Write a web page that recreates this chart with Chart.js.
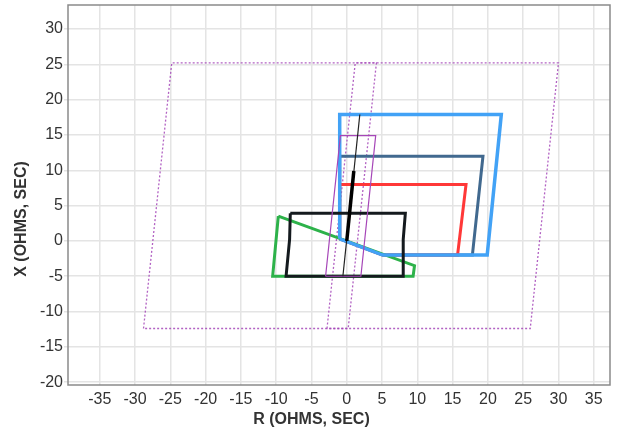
<!DOCTYPE html>
<html>
<head>
<meta charset="utf-8">
<script src="https://cdn.jsdelivr.net/npm/chart.js@4"></script>
<style>
  html, body { margin: 0; padding: 0; background: #ffffff; }
  #wrap { width: 617px; height: 434px; }
</style>
</head>
<body>
<div id="wrap"><canvas id="c" width="617" height="434"></canvas></div>
<script>
// Tick labels
const rTicks = [-35, -30, -25, -20, -15, -10, -5, 0, 5, 10, 15, 20, 25, 30, 35];
const xTicks = [-20, -15, -10, -5, 0, 5, 10, 15, 20, 25, 30];
const rTitle = 'R (OHMS, SEC)';
const xTitle = 'X (OHMS, SEC)';

// Shapes (R, X pairs)
const outerDottedR = [-28.8, -24.8, 30.0, 26.0, -28.8];
const outerDottedX = [-12.4, 25.2, 25.2, -12.4, -12.4];

const narrowDottedR = [-2.8, 1.2, 4.2, 0.2, -2.8];
const narrowDottedX = [-12.4, 25.2, 25.2, -12.4, -12.4];

const steelR = [-1.0, -1.0, 19.3, 17.8, 5.1, -1.0];
const steelX = [0.3, 12.0, 12.0, -2.0, -2.0, 0.3];

const redR = [-1.0, -1.0, 16.9, 15.7, 5.1, -1.0];
const redX = [0.3, 8.0, 8.0, -2.0, -2.0, 0.3];

const greenR = [-9.7, 9.6, 9.4, -10.5, -9.7];
const greenX = [3.5, -3.5, -5.0, -5.0, 3.5];

const blueR = [-1.0, -1.0, 21.9, 19.9, 5.1, -1.0];
const blueX = [0.3, 17.9, 17.9, -2.0, -2.0, 0.3];

const blackBoxR = [-8.0, 8.3, 8.0, 8.0, -8.6, -8.1, -8.0];
const blackBoxX = [3.9, 3.9, 0.2, -5.0, -5.0, 0.2, 3.9];

const purpleR = [-3.0, -0.9, 4.1, 2.0, -3.0];
const purpleX = [-5.0, 14.9, 14.9, -5.0, -5.0];

const thinLineR = [-0.55, 1.85];
const thinLineX = [-5.0, 17.9];

const thickLineR = [0.0, 1.0];
const thickLineX = [0.0, 9.9];

function pts(rs, xs) { return rs.map((r, i) => ({ x: r, y: xs[i] })); }

const specs = [
  { r: outerDottedR, x: outerDottedX, color: 'rgba(165,70,185,0.85)', w: 1.3, dash: [2, 2] },
  { r: narrowDottedR, x: narrowDottedX, color: 'rgba(165,70,185,0.85)', w: 1.3, dash: [2, 2] },
  { r: steelR, x: steelX, color: '#41698f', w: 3 },
  { r: redR, x: redX, color: '#ff3838', w: 3 },
  { r: greenR, x: greenX, color: '#2db24a', w: 3 },
  { r: blueR, x: blueX, color: '#42a2f6', w: 3.5 },
  { r: blackBoxR, x: blackBoxX, color: '#141a1e', w: 3 },
  { r: purpleR, x: purpleX, color: '#a646b8', w: 1.2 },
  { r: thinLineR, x: thinLineX, color: '#222222', w: 1.2 },
  { r: thickLineR, x: thickLineX, color: '#000000', w: 3.5 }
];

const datasets = specs.map((s, i) => ({
  data: pts(s.r, s.x),
  showLine: true,
  fill: false,
  borderColor: s.color,
  backgroundColor: s.color,
  borderWidth: s.w,
  borderDash: s.dash || [],
  borderJoinStyle: 'miter',
  borderCapStyle: 'butt',
  pointRadius: 0,
  pointHoverRadius: 0,
  tension: 0,
  order: specs.length - i
}));

const FONT = "'Liberation Sans', Arial, Helvetica, sans-serif";

const frame = {
  id: 'frame',
  afterDraw(chart) {
    const { ctx, chartArea: a, width, height } = chart;
    ctx.save();
    ctx.strokeStyle = '#8a8a8a';
    ctx.lineWidth = 1.5;
    ctx.strokeRect(a.left, a.top, a.right - a.left, a.bottom - a.top);
    // axis titles, centred on the canvas like the reference
    ctx.fillStyle = '#333333';
    ctx.font = "bold 16px " + FONT;
    ctx.textAlign = 'center';
    ctx.textBaseline = 'middle';
    ctx.fillText(rTitle, width / 2 + 3, 420);
    ctx.translate(22, height / 2 + 2);
    ctx.rotate(-Math.PI / 2);
    ctx.fillText(xTitle, 0, 0);
    ctx.restore();
  }
};

new Chart(document.getElementById('c'), {
  type: 'scatter',
  data: { datasets },
  plugins: [frame],
  options: {
    responsive: false,
    devicePixelRatio: 1,
    animation: false,
    layout: { padding: { left: 9, right: 7, top: 5, bottom: 0 } },
    plugins: { legend: { display: false }, tooltip: { enabled: false } },
    scales: {
      x: {
        type: 'linear',
        min: -39.5, max: 37.3,
        afterBuildTicks: (s) => { s.ticks = rTicks.map(v => ({ value: v })); },
        afterFit: (s) => { s.height = 49; s.paddingLeft = 0; s.paddingRight = 0; },
        grid: { color: '#e4e4e4', lineWidth: 1.5, drawTicks: false },
        border: { display: false },
        ticks: { font: { family: FONT, size: 16 }, color: '#333333', padding: 5, maxRotation: 0, autoSkip: false },
        title: { display: false, text: rTitle }
      },
      y: {
        type: 'linear',
        min: -20.4, max: 33.4,
        afterBuildTicks: (s) => { s.ticks = xTicks.map(v => ({ value: v })); },
        afterFit: (s) => { s.width = 59; s.paddingTop = 0; s.paddingBottom = 0; },
        grid: { color: '#e4e4e4', lineWidth: 1.5, tickLength: 4 },
        border: { display: false },
        ticks: { font: { family: FONT, size: 16 }, color: '#333333', padding: 1, autoSkip: false },
        title: { display: false, text: xTitle }
      }
    }
  }
});
</script>
</body>
</html>
